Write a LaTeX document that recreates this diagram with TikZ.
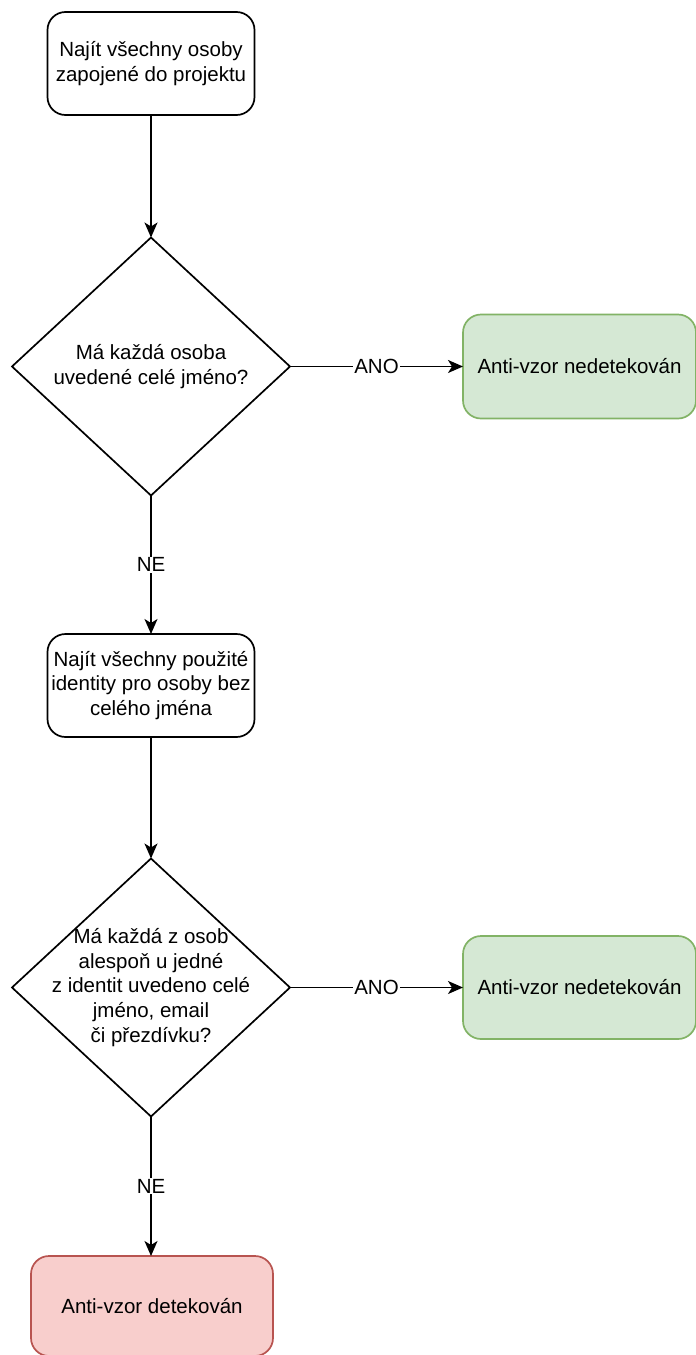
\documentclass[tikz,border=0pt]{standalone}
\usepackage{fontspec}
\setmainfont{Liberation Sans}
\usetikzlibrary{arrows.meta,shapes.geometric}
\definecolor{okfill}{HTML}{D5E8D4}
\definecolor{okline}{HTML}{82B366}
\definecolor{badfill}{HTML}{F8CECC}
\definecolor{badline}{HTML}{B85450}
\begin{document}
\begin{tikzpicture}[x=1pt,y=-1pt,
  every node/.style={font=\fontsize{20.5}{24.6}\selectfont, align=center, inner sep=0pt, outer sep=0pt},
  proc/.style={draw, line width=1.7pt, rounded corners=18pt, fill=white},
  okbox/.style={draw=okline, fill=okfill, line width=1.7pt, rounded corners=18pt},
  badbox/.style={draw=badline, fill=badfill, line width=1.7pt, rounded corners=18pt},
  decision/.style={draw, diamond, line width=1.7pt, minimum width=278pt, minimum height=258pt},
  flow/.style={draw, line width=1.7pt, -{Stealth[length=15pt,width=13pt,inset=4pt]}},
  lbl/.style={fill=white, inner sep=1pt}]
\useasboundingbox (0,0) rectangle (696,1355);

% process steps
\node[proc, minimum width=207pt, minimum height=103pt] (find) at (151,63.5)
  {Najít všechny osoby\\zapojené do projektu};
\node[decision] (q1) at (151,366.5) {};
\node (q1t) at (151,366.5) {Má každá osoba\\uvedené celé jméno?};
\node[okbox, minimum width=233pt, minimum height=104pt] (ok1) at (579.5,366.5)
  {Anti-vzor nedetekován};

\node[proc, minimum width=207pt, minimum height=103pt] (ident) at (151,685.5)
  {Najít všechny použité\\identity pro osoby bez\\celého jména};
\node[decision] (q2) at (151,987.5) {};
\node (q2t) at (151,987.5)
  {Má každá z osob\\alespoň u jedné\\z identit uvedeno celé\\jméno, email\\či přezdívku?};
\node[okbox, minimum width=233pt, minimum height=103pt] (ok2) at (579.5,987.5)
  {Anti-vzor nedetekován};

\node[badbox, minimum width=242pt, minimum height=100pt] (bad) at (152,1306)
  {Anti-vzor detekován};

% connectors
\draw[flow] (find.south) -- (q1.north);
\draw[flow] (q1.east) -- node[lbl] {ANO} (ok1.west);
\draw[flow] (q1.south) -- node[lbl] {NE} (ident.north);
\draw[flow] (ident.south) -- (q2.north);
\draw[flow] (q2.east) -- node[lbl] {ANO} (ok2.west);
\draw[flow] (q2.south) -- node[lbl] {NE} (q2.south |- bad.north);
\end{tikzpicture}
\end{document}
